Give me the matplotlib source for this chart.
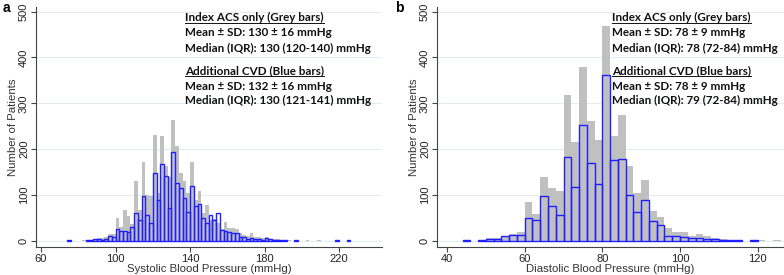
import numpy as np
import matplotlib
matplotlib.use('Agg')
from matplotlib import pyplot as plt
from matplotlib.lines import Line2D

# bin width 2 mmHg, left edges start at these values
sys_start = 74
sys_grey = [0, 0, 0, 0, 1, 2, 2, 3, 5, 6, 9, 14, 14,
            50, 30, 67, 54, 36, 131, 68, 172, 100, 98,
            231, 103, 228, 162, 140, 264, 206, 148, 130, 103,
            172, 88, 108, 60, 77, 45, 48, 38, 25, 40,
            28, 27, 26, 16, 12, 10, 17, 8, 7, 5,
            7, 4, 3, 3, 2, 2, 1, 0, 1, 0,
            0, 1, 0, 0, 1, 0, 0, 0, 0, 0, 0, 0, 0]
sys_blue = [1, 0, 0, 0, 0, 1, 2, 3, 4, 2, 4, 10, 9,
            25, 22, 22, 19, 29, 60, 45, 97, 55, 38,
            148, 89, 167, 141, 71, 194, 126, 116, 94, 63,
            120, 76, 80, 49, 38, 57, 45, 60, 23, 22,
            20, 16, 16, 9, 7, 4, 5, 3, 3, 2,
            5, 3, 2, 1, 1, 1, 0, 0, 1, 0,
            0, 0, 0, 0, 0, 0, 0, 0, 0, 1, 0, 0, 1]

dia_start = 44
dia_grey = [1, 0, 1, 5, 6, 10, 15, 19,
            85, 59, 138, 115, 108, 317, 215, 380, 262, 220,
            468, 229, 274, 163, 105, 132, 64, 52, 28, 20,
            19, 11, 15, 10, 6, 4, 2, 1, 0, 1, 1, 0, 1]
dia_blue = [1, 0, 1, 4, 4, 10, 13, 13,
            49, 45, 98, 75, 56, 182, 117, 252, 169, 123,
            361, 176, 179, 99, 63, 88, 42, 34, 11, 11,
            8, 6, 6, 4, 3, 2, 1, 1, 0, 1, 0, 0, 0]

sys_text = ['Index ACS only (Grey bars)', 'Mean \u00b1 SD: 130 \u00b1 16 mmHg',
            'Median (IQR): 130 (120-140) mmHg', 'Additional CVD (Blue bars)',
            'Mean \u00b1 SD: 132 \u00b1 16 mmHg', 'Median (IQR): 130 (121-141) mmHg']
dia_text = ['Index ACS only (Grey bars)', 'Mean \u00b1 SD: 78 \u00b1 9 mmHg',
            'Median (IQR): 78 (72-84) mmHg', 'Additional CVD (Blue bars)',
            'Mean \u00b1 SD: 78 \u00b1 9 mmHg', 'Median (IQR): 79 (72-84) mmHg']

W, H = 784, 275
GREY = '#c0c0c0'
BLUE = '#1f1fff'
plt.rcParams['font.family'] = ['Liberation Sans', 'DejaVu Sans']

fig = plt.figure(figsize=(W / 100, H / 100), dpi=100)


def px_axes(x0, x1, ytop, ybot):
    return fig.add_axes([x0 / W, 1 - ybot / H, (x1 - x0) / W, (ybot - ytop) / H])


def draw_panel(ax, start, grey, blue, xlim, xticks, xlabel):
    edges = start + 2 * np.arange(len(grey))
    g = np.array(grey)
    b = np.array(blue)
    ax.bar(edges[g > 0], g[g > 0], width=2, align='edge', color=GREY, linewidth=0, zorder=2)
    ax.bar(edges[b > 0], b[b > 0], width=2, align='edge', fill=False,
           edgecolor=BLUE, linewidth=1.0, zorder=3)
    ax.set_xlim(*xlim)
    ax.set_ylim(-14.5, 510)
    ax.set_xticks(xticks)
    ax.set_yticks([0, 100, 200, 300, 400, 500])
    ax.yaxis.grid(True, color='#e3edef', linewidth=0.8, zorder=0)
    ax.set_axisbelow(True)
    for s in ['top', 'right']:
        ax.spines[s].set_visible(False)
    for s in ['left', 'bottom']:
        ax.spines[s].set_color('#444444')
        ax.spines[s].set_linewidth(0.8)
    ax.tick_params(axis='both', colors='#444444', labelcolor='#222222',
                   labelsize=8, length=3.5, width=0.8)
    ax.tick_params(axis='x', pad=1)
    ax.tick_params(axis='y', pad=1.5)
    for lab in ax.get_yticklabels():
        lab.set_rotation(90)
        lab.set_va('center')
    ax.set_xlabel(xlabel, fontsize=8.2, color='#333333', labelpad=0)
    ax.set_ylabel('Number of Patients', fontsize=8.2, color='#333333', labelpad=1)


ax1 = px_axes(36, 382, 7.1, 247.3)
draw_panel(ax1, sys_start, sys_grey, sys_blue, (57.3, 243), [60, 100, 140, 180, 220],
           'Systolic Blood Pressure (mmHg)')
ax2 = px_axes(437, 784, 7.1, 247.3)
draw_panel(ax2, dia_start, dia_grey, dia_blue, (37.4, 126.8), [40, 60, 80, 100, 120],
           'Diastolic Blood Pressure (mmHg)')

fig.text(3 / W, 1 - 8 / H, 'a', fontsize=10, fontweight='bold', va='center')
fig.text(395 / W, 1 - 8 / H, 'b', fontsize=10, fontweight='bold', va='center')

line_y = [17.3, 32.7, 48.3, 71, 86, 100.7]
heads = []
for x0, lines in [(185.3, sys_text), (612, dia_text)]:
    for i, s in enumerate(lines):
        t = fig.text(x0 / W, 1 - line_y[i] / H, s, fontsize=8.4, fontweight='bold',
                     family=['Lato', 'DejaVu Sans'], va='center', color='#111111')
        if i in (0, 3):
            heads.append(t)

fig.canvas.draw()
r = fig.canvas.get_renderer()
for t in heads:
    bb = t.get_window_extent(r)
    yy = (bb.y0 + 0.3) / fig.bbox.height
    fig.add_artist(Line2D([bb.x0 / fig.bbox.width, bb.x1 / fig.bbox.width], [yy, yy],
                          transform=fig.transFigure, color='#111111', linewidth=0.7))

plt.savefig('out.png', dpi=100)
plt.close()
